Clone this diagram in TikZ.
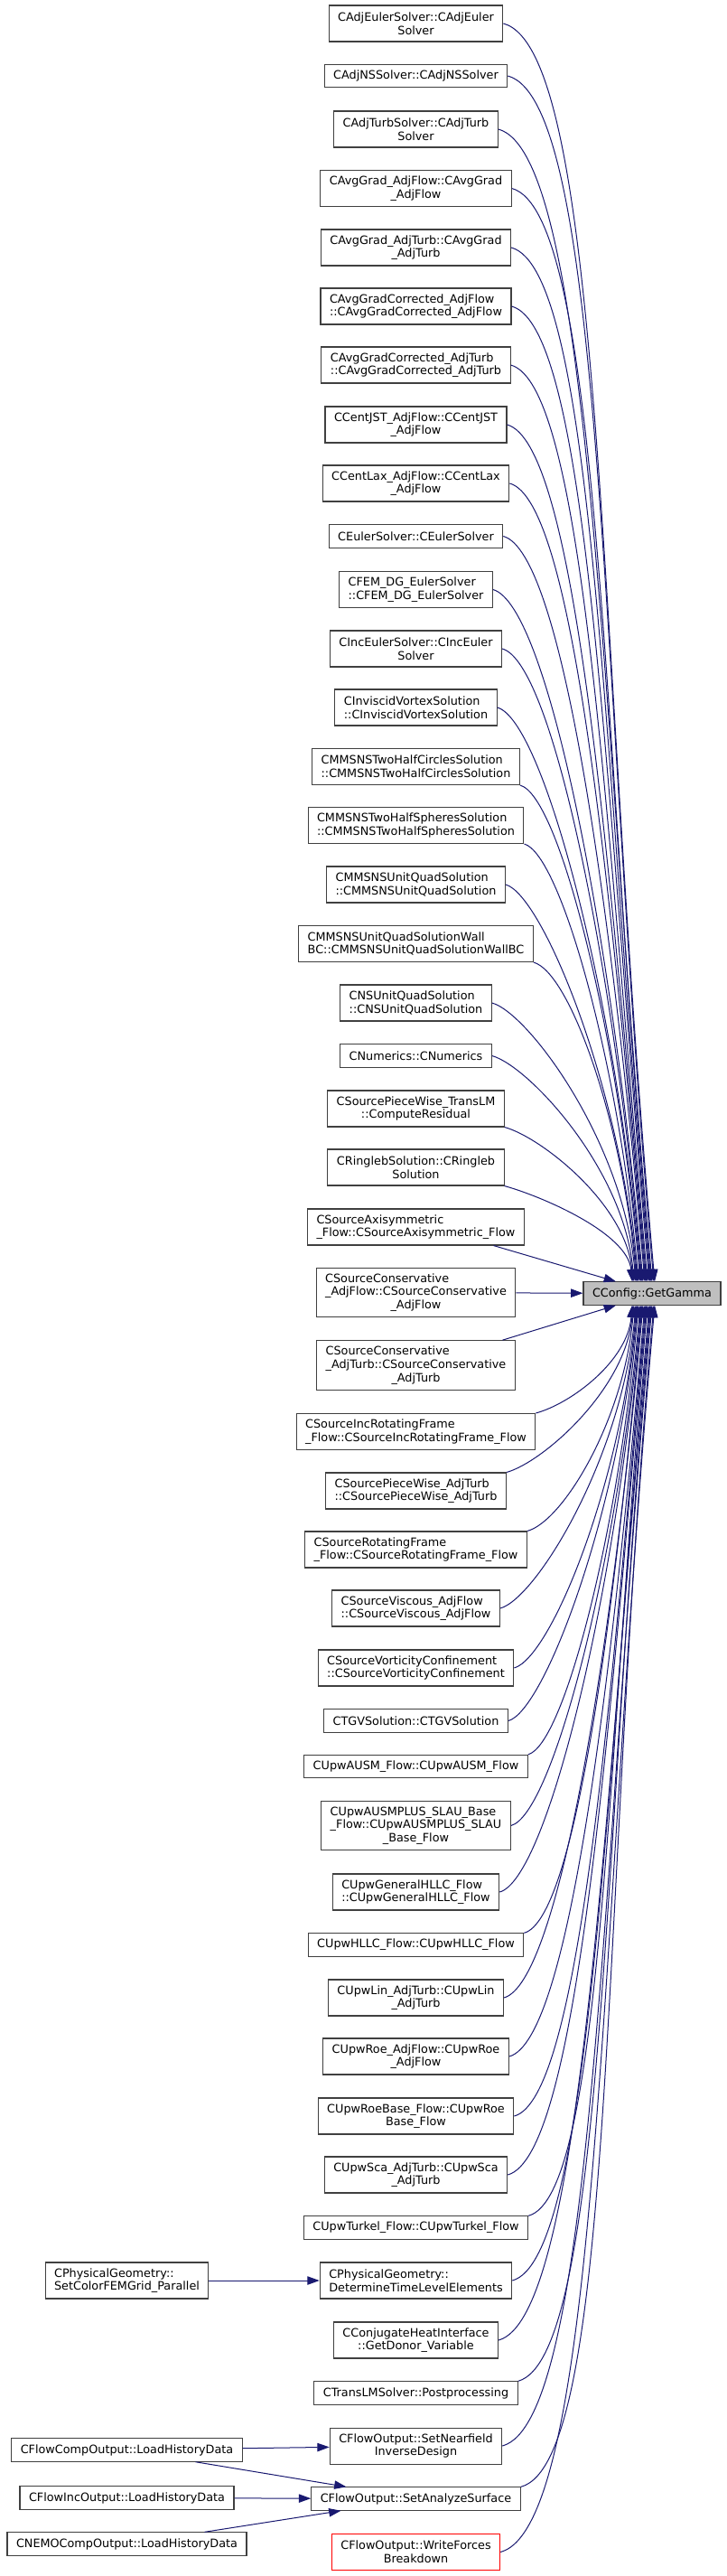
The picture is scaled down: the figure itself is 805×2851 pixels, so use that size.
\documentclass[tikz,border=0pt]{standalone}
\usepackage{fontspec}
\setmainfont{DejaVu Sans}
\usepackage{calc}
\usetikzlibrary{arrows.meta,calc}
\definecolor{EdgeBlue}{RGB}{25,25,112}
\definecolor{BoxGray}{RGB}{64,64,64}
\definecolor{CurFill}{RGB}{191,191,191}
\definecolor{WarnRed}{RGB}{255,0,0}
\newcommand{\lefttwo}[2]{\makebox[\widthof{#2}][l]{#1}\\#2}

\begin{document}
\begin{tikzpicture}[x=0.75pt, y=0.75pt,
  box/.style={rectangle, draw=BoxGray, line width=0.8pt, fill=white, align=center,
              inner xsep=7.5pt, inner ysep=0pt, minimum height=19pt,
              font=\fontsize{9.6}{11}\selectfont},
  box2/.style={box, minimum height=30pt},
  box3/.style={box, minimum height=41pt},
  arrow/.style={-{Triangle[length=10pt, width=7pt]}, line width=0.75pt, EdgeBlue}
]
\useasboundingbox (0,0) rectangle (805,-2851);

% the called function
\node[box, fill=CurFill] (gamma) at (722,-1431.5) {CConfig::GetGamma};

% direct callers
\node[box2] (adjeuler) at (460.5,-26) {CAdjEulerSolver::CAdjEuler\\Solver};
\node[box] (adjns) at (460.5,-84) {CAdjNSSolver::CAdjNSSolver};
\node[box2] (adjturb) at (460.5,-143) {CAdjTurbSolver::CAdjTurb\\Solver};
\node[box2] (avgflow) at (460.5,-208.5) {CAvgGrad\_AdjFlow::CAvgGrad\\\_AdjFlow};
\node[box2] (avgturb) at (460.5,-274) {CAvgGrad\_AdjTurb::CAvgGrad\\\_AdjTurb};
\node[box2] (avgcflow) at (460.5,-339) {\lefttwo{CAvgGradCorrected\_AdjFlow}{::CAvgGradCorrected\_AdjFlow}};
\node[box2] (avgcturb) at (460.5,-404) {\lefttwo{CAvgGradCorrected\_AdjTurb}{::CAvgGradCorrected\_AdjTurb}};
\node[box2] (jst) at (460.5,-470) {CCentJST\_AdjFlow::CCentJST\\\_AdjFlow};
\node[box2] (lax) at (460.5,-535) {CCentLax\_AdjFlow::CCentLax\\\_AdjFlow};
\node[box] (euler) at (460.5,-593.5) {CEulerSolver::CEulerSolver};
\node[box2] (femdg) at (460.5,-652.5) {\lefttwo{CFEM\_DG\_EulerSolver}{::CFEM\_DG\_EulerSolver}};
\node[box2] (inceuler) at (460.5,-718) {CIncEulerSolver::CIncEuler\\Solver};
\node[box2] (vortex) at (460.5,-783) {\lefttwo{CInviscidVortexSolution}{::CInviscidVortexSolution}};
\node[box2] (circles) at (460.5,-848.5) {\lefttwo{CMMSNSTwoHalfCirclesSolution}{::CMMSNSTwoHalfCirclesSolution}};
\node[box2] (spheres) at (460.5,-913.5) {\lefttwo{CMMSNSTwoHalfSpheresSolution}{::CMMSNSTwoHalfSpheresSolution}};
\node[box2] (mmsquad) at (460.5,-979) {\lefttwo{CMMSNSUnitQuadSolution}{::CMMSNSUnitQuadSolution}};
\node[box2] (mmswall) at (460.5,-1044.5) {\lefttwo{CMMSNSUnitQuadSolutionWall}{BC::CMMSNSUnitQuadSolutionWallBC}};
\node[box2] (nsquad) at (460.5,-1110) {\lefttwo{CNSUnitQuadSolution}{::CNSUnitQuadSolution}};
\node[box] (numerics) at (460.5,-1168.5) {CNumerics::CNumerics};
\node[box2] (translm) at (460.5,-1227) {CSourcePieceWise\_TransLM\\::ComputeResidual};
\node[box2] (ringleb) at (460.5,-1292) {CRinglebSolution::CRingleb\\Solution};
\node[box2] (axisym) at (460.5,-1358) {\lefttwo{CSourceAxisymmetric}{\_Flow::CSourceAxisymmetric\_Flow}};
\node[box3] (consflow) at (460.5,-1430.5) {\lefttwo{CSourceConservative}{\_AdjFlow::CSourceConservative}\\\_AdjFlow};
\node[box3] (consturb) at (460.5,-1511) {\lefttwo{CSourceConservative}{\_AdjTurb::CSourceConservative}\\\_AdjTurb};
\node[box2] (incrot) at (460.5,-1584.5) {\lefttwo{CSourceIncRotatingFrame}{\_Flow::CSourceIncRotatingFrame\_Flow}};
\node[box2] (pwturb) at (460.5,-1650) {\lefttwo{CSourcePieceWise\_AdjTurb}{::CSourcePieceWise\_AdjTurb}};
\node[box2] (rotframe) at (460.5,-1715) {\lefttwo{CSourceRotatingFrame}{\_Flow::CSourceRotatingFrame\_Flow}};
\node[box2] (viscous) at (460.5,-1780) {\lefttwo{CSourceViscous\_AdjFlow}{::CSourceViscous\_AdjFlow}};
\node[box2] (vorticity) at (460.5,-1846) {\lefttwo{CSourceVorticityConfinement}{::CSourceVorticityConfinement}};
\node[box] (tgv) at (460.5,-1904.5) {CTGVSolution::CTGVSolution};
\node[box] (ausm) at (460.5,-1955) {CUpwAUSM\_Flow::CUpwAUSM\_Flow};
\node[box3] (slau) at (460.5,-2020.5) {\lefttwo{CUpwAUSMPLUS\_SLAU\_Base}{\_Flow::CUpwAUSMPLUS\_SLAU}\\\_Base\_Flow};
\node[box2] (genhllc) at (460.5,-2094) {\lefttwo{CUpwGeneralHLLC\_Flow}{::CUpwGeneralHLLC\_Flow}};
\node[box] (hllc) at (460.5,-2152.5) {CUpwHLLC\_Flow::CUpwHLLC\_Flow};
\node[box2] (lin) at (460.5,-2211) {CUpwLin\_AdjTurb::CUpwLin\\\_AdjTurb};
\node[box2] (roeadj) at (460.5,-2276) {CUpwRoe\_AdjFlow::CUpwRoe\\\_AdjFlow};
\node[box2] (roebase) at (460.5,-2342) {CUpwRoeBase\_Flow::CUpwRoe\\Base\_Flow};
\node[box2] (sca) at (460.5,-2407) {CUpwSca\_AdjTurb::CUpwSca\\\_AdjTurb};
\node[box] (turkel) at (460.5,-2465.5) {CUpwTurkel\_Flow::CUpwTurkel\_Flow};
\node[box2] (timelevel) at (460.5,-2524) {\lefttwo{CPhysicalGeometry::}{DetermineTimeLevelElements}};
\node[box2] (donor) at (460.5,-2590) {CConjugateHeatInterface\\::GetDonor\_Variable};
\node[box] (postproc) at (460.5,-2648.5) {CTransLMSolver::Postprocessing};
\node[box2] (nearfield) at (460.5,-2707) {CFlowOutput::SetNearfield\\InverseDesign};
\node[box] (analyze) at (460.5,-2765.5) {CFlowOutput::SetAnalyzeSurface};
\node[box2, draw=WarnRed] (forces) at (460.5,-2824.5) {CFlowOutput::WriteForces\\Breakdown};

% second level callers
\node[box2] (setcolor) at (140.5,-2524) {\lefttwo{CPhysicalGeometry::}{SetColorFEMGrid\_Parallel}};
\node[box] (flowcomp) at (140.5,-2711.5) {CFlowCompOutput::LoadHistoryData};
\node[box] (flowinc) at (140.5,-2764.5) {CFlowIncOutput::LoadHistoryData};
\node[box] (nemo) at (140.5,-2815.5) {CNEMOCompOutput::LoadHistoryData};

% edges from above
\draw[arrow] (adjeuler.east) .. controls +(111,-30) and ($(gamma.north)+(-60,697)$) .. ($(gamma.north)+(3,0)$);
\draw[arrow] (adjns.east) .. controls +(107,-29) and ($(gamma.north)+(-58,668)$) .. ($(gamma.north)+(2,0)$);
\draw[arrow] (adjturb.east) .. controls +(102,-28) and ($(gamma.north)+(-57,638)$) .. ($(gamma.north)+(0,0)$);
\draw[arrow] (avgflow.east) .. controls +(97,-26) and ($(gamma.north)+(-55,605)$) .. ($(gamma.north)+(-1,0)$);
\draw[arrow] (avgturb.east) .. controls +(92,-25) and ($(gamma.north)+(-54,573)$) .. ($(gamma.north)+(-2,0)$);
\draw[arrow] (avgcflow.east) .. controls +(86,-23) and ($(gamma.north)+(-52,540)$) .. ($(gamma.north)+(-3,0)$);
\draw[arrow] (avgcturb.east) .. controls +(81,-22) and ($(gamma.north)+(-51,508)$) .. ($(gamma.north)+(-5,0)$);
\draw[arrow] (jst.east) .. controls +(76,-21) and ($(gamma.north)+(-49,475)$) .. ($(gamma.north)+(-6,0)$);
\draw[arrow] (lax.east) .. controls +(71,-19) and ($(gamma.north)+(-47,442)$) .. ($(gamma.north)+(-7,0)$);
\draw[arrow] (euler.east) .. controls +(66,-18) and ($(gamma.north)+(-45,413)$) .. ($(gamma.north)+(-8,0)$);
\draw[arrow] (femdg.east) .. controls +(61,-17) and ($(gamma.north)+(-45,384)$) .. ($(gamma.north)+(-10,0)$);
\draw[arrow] (inceuler.east) .. controls +(56,-15) and ($(gamma.north)+(-43,351)$) .. ($(gamma.north)+(-11,0)$);
\draw[arrow] (vortex.east) .. controls +(51,-14) and ($(gamma.north)+(-41,318)$) .. ($(gamma.north)+(-12,0)$);
\draw[arrow] (circles.south east) .. controls +(44,-12) and ($(gamma.north)+(-38,276)$) .. ($(gamma.north)+(-13,0)$);
\draw[arrow] (spheres.south east) .. controls +(40,-11) and ($(gamma.north)+(-37,243)$) .. ($(gamma.north)+(-15,0)$);
\draw[arrow] (mmsquad.east) .. controls +(40,-11) and ($(gamma.north)+(-36,220)$) .. ($(gamma.north)+(-16,0)$);
\draw[arrow] (mmswall.south east) .. controls +(40,-11) and ($(gamma.north)+(-33,178)$) .. ($(gamma.north)+(-17,0)$);
\draw[arrow] (nsquad.east) .. controls +(40,-11) and ($(gamma.north)+(-32,155)$) .. ($(gamma.north)+(-18,0)$);
\draw[arrow] (numerics.east) .. controls +(40,-11) and ($(gamma.north)+(-31,125)$) .. ($(gamma.north)+(-20,0)$);
\draw[arrow] (translm.south east) .. controls +(40,-11) and ($(gamma.north)+(-29,86)$) .. ($(gamma.north)+(-21,0)$);
\draw[arrow] (ringleb.south east) .. controls +(40,-11) and ($(gamma.north)+(-27,54)$) .. ($(gamma.north)+(-22,0)$);
\draw[arrow] ($(axisym.south)+(86,0)$) -- ($(gamma.north)+(-40,0)$);
\draw[arrow] (consflow) -- (gamma);
\draw[arrow] ($(consturb.north)+(96,0)$) -- ($(gamma.south)+(-40,0)$);

% edges from below
\draw[arrow] (incrot.north east) .. controls +(40,11) and ($(gamma.south)+(-27,-61)$) .. ($(gamma.south)+(-22,0)$);
\draw[arrow] (pwturb.north east) .. controls +(40,11) and ($(gamma.south)+(-29,-93)$) .. ($(gamma.south)+(-21,0)$);
\draw[arrow] (rotframe.north east) .. controls +(40,11) and ($(gamma.south)+(-31,-126)$) .. ($(gamma.south)+(-20,0)$);
\draw[arrow] (viscous.east) .. controls +(40,11) and ($(gamma.south)+(-33,-168)$) .. ($(gamma.south)+(-18,0)$);
\draw[arrow] (vorticity.east) .. controls +(40,11) and ($(gamma.south)+(-35,-201)$) .. ($(gamma.south)+(-17,0)$);
\draw[arrow] (tgv.east) .. controls +(40,11) and ($(gamma.south)+(-37,-230)$) .. ($(gamma.south)+(-16,0)$);
\draw[arrow] (ausm.north east) .. controls +(40,11) and ($(gamma.south)+(-37,-249)$) .. ($(gamma.south)+(-15,0)$);
\draw[arrow] (slau.east) .. controls +(46,12) and ($(gamma.south)+(-39,-288)$) .. ($(gamma.south)+(-13,0)$);
\draw[arrow] (genhllc.east) .. controls +(52,14) and ($(gamma.south)+(-41,-325)$) .. ($(gamma.south)+(-12,0)$);
\draw[arrow] (hllc.north east) .. controls +(56,15) and ($(gamma.south)+(-42,-348)$) .. ($(gamma.south)+(-11,0)$);
\draw[arrow] (lin.east) .. controls +(61,17) and ($(gamma.south)+(-45,-384)$) .. ($(gamma.south)+(-10,0)$);
\draw[arrow] (roeadj.east) .. controls +(67,18) and ($(gamma.south)+(-45,-416)$) .. ($(gamma.south)+(-8,0)$);
\draw[arrow] (roebase.east) .. controls +(72,19) and ($(gamma.south)+(-47,-449)$) .. ($(gamma.south)+(-7,0)$);
\draw[arrow] (sca.east) .. controls +(77,21) and ($(gamma.south)+(-49,-481)$) .. ($(gamma.south)+(-6,0)$);
\draw[arrow] (turkel.north east) .. controls +(81,22) and ($(gamma.south)+(-50,-505)$) .. ($(gamma.south)+(-5,0)$);
\draw[arrow] (timelevel.east) .. controls +(86,23) and ($(gamma.south)+(-52,-540)$) .. ($(gamma.south)+(-3,0)$);
\draw[arrow] (donor.east) .. controls +(92,25) and ($(gamma.south)+(-54,-573)$) .. ($(gamma.south)+(-2,0)$);
\draw[arrow] (postproc.north east) .. controls +(95,26) and ($(gamma.south)+(-55,-596)$) .. ($(gamma.south)+(-1,0)$);
\draw[arrow] (nearfield.east) .. controls +(101,27) and ($(gamma.south)+(-57,-631)$) .. ($(gamma.south)+(0,0)$);
\draw[arrow] (analyze.north east) .. controls +(105,28) and ($(gamma.south)+(-57,-655)$) .. ($(gamma.south)+(2,0)$);
\draw[arrow] (forces.east) .. controls +(110,30) and ($(gamma.south)+(-59,-690)$) .. ($(gamma.south)+(3,0)$);

% second level edges
\draw[arrow] (setcolor) -- (timelevel);
\draw[arrow] (flowcomp) -- (nearfield);
\draw[arrow] ($(flowcomp.south)+(76,0)$) -- ($(analyze.north)+(-77,0)$);
\draw[arrow] (flowinc) -- (analyze);
\draw[arrow] ($(nemo.north)+(86,0)$) -- ($(analyze.south)+(-83,0)$);
\end{tikzpicture}
\end{document}
